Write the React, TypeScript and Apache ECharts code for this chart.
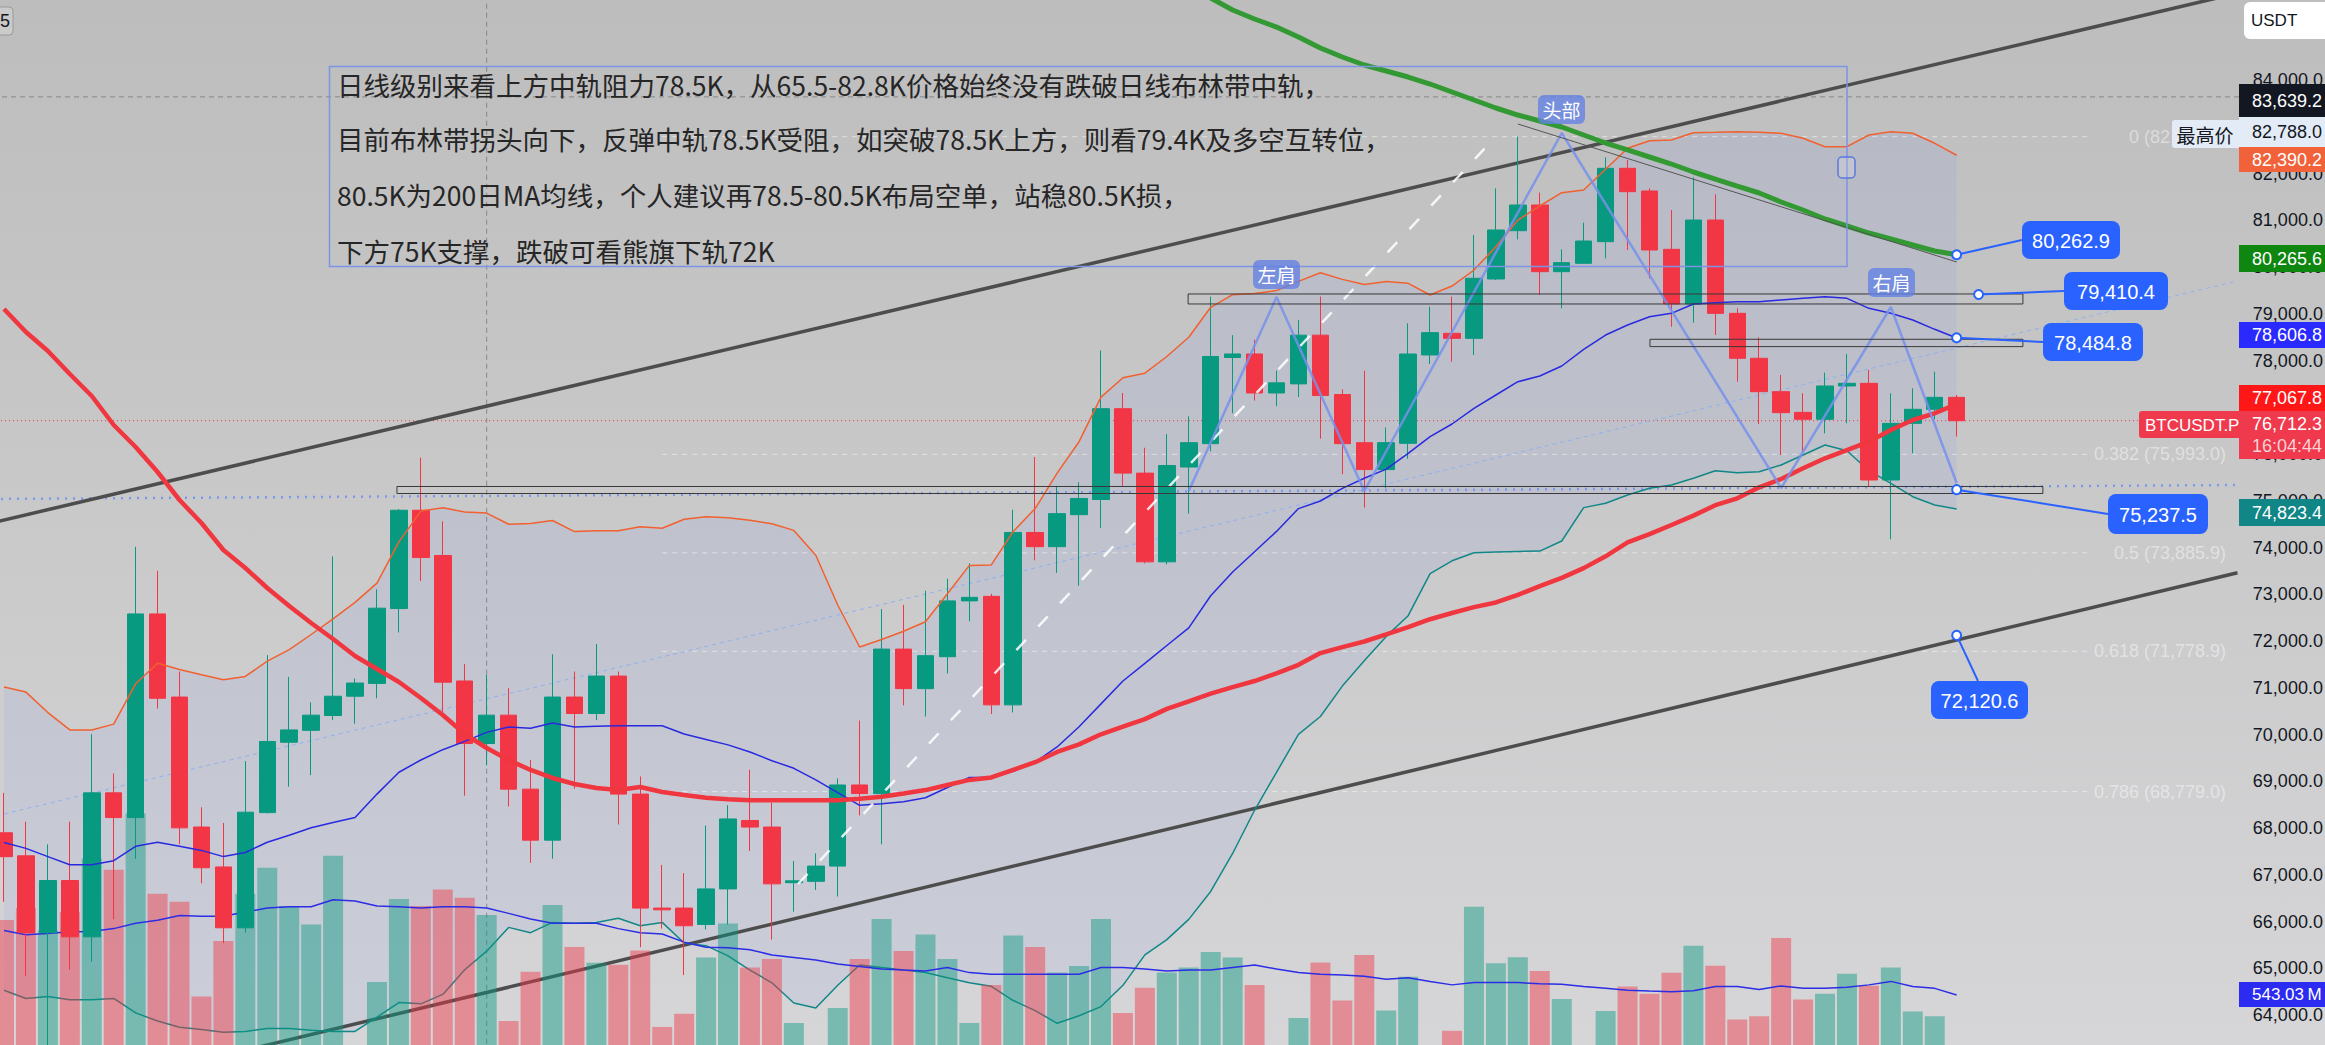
import React, { useEffect, useRef } from 'react';
import * as echarts from 'echarts';

// ---------- data ----------
// daily candles: [open, high, low, close]
const ohlc: number[][] = [
  [67898, 68752, 66420, 67387], [67405, 68136, 64836, 65760], [65760, 67651, 63300, 66877], [66877, 68136, 64968, 65672],
  [65672, 70010, 65144, 68752], [68752, 69165, 66050, 68223], [68223, 74014, 67343, 72579], [72579, 73503, 70555, 70775],
  [70801, 71347, 67651, 68003], [68021, 68443, 66815, 67150], [67167, 68109, 65539, 65865], [65865, 69429, 65760, 68338],
  [68329, 71699, 68311, 69851], [69834, 71233, 68883, 70098], [70089, 70687, 69130, 70414], [70406, 73811, 70309, 70819],
  [70819, 71198, 70230, 71101], [71092, 73107, 70775, 72702], [72694, 74823, 72183, 74797], [74797, 75923, 73283, 73785],
  [73829, 74559, 70467, 71119], [71145, 71506, 68690, 69807], [69807, 71277, 69341, 70414], [70414, 70995, 68461, 68831],
  [68831, 69455, 67255, 67740], [67740, 71717, 67343, 70801], [70801, 71347, 68839, 70449], [70449, 71937, 70309, 71250],
  [71250, 71347, 68074, 68725], [68725, 69103, 65451, 66287], [66287, 67211, 65847, 66250], [66287, 67035, 64853, 65909],
  [65937, 68053, 65829, 66697], [66697, 68487, 65937, 68194], [68161, 69246, 67510, 68020], [68020, 68541, 65612, 66805],
  [66830, 67294, 66208, 66870], [66859, 67456, 66675, 67185], [67185, 69061, 66534, 68920], [68920, 70298, 68270, 68736],
  [68736, 72684, 67651, 71827], [71827, 72771, 70624, 70981], [70981, 73075, 70385, 71686], [71664, 73335, 71307, 72858],
  [72858, 73661, 72424, 72934], [72955, 73010, 70439, 70634], [70634, 74810, 70471, 74322], [74322, 75938, 73726, 74018],
  [74018, 75320, 73455, 74724], [74702, 75396, 73183, 75049], [75027, 78216, 74420, 76969], [76969, 77305, 75320, 75591],
  [75591, 76134, 73661, 73693], [73693, 76427, 73639, 75754], [75722, 76806, 74724, 76242], [76221, 79366, 76058, 78086],
  [78064, 78542, 76871, 78140], [78140, 78444, 77142, 77305], [77305, 77783, 77023, 77522], [77500, 78867, 77218, 78542],
  [78542, 79366, 76329, 77251], [77272, 77381, 75570, 76221], [76242, 77782, 74854, 75667], [75667, 76567, 75266, 76242],
  [76228, 78795, 75900, 78139], [78118, 79152, 77925, 78596], [78581, 79366, 77975, 78474], [78474, 80685, 78118, 79758],
  [79743, 81683, 79722, 80792], [80777, 82788, 80592, 81326], [81326, 81590, 79401, 79900], [79900, 80378, 79116, 80093],
  [80079, 80948, 80064, 80556], [80542, 82346, 80185, 82111], [82111, 82289, 80364, 81611], [81626, 81683, 79758, 80364],
  [80378, 81219, 78724, 79209], [79209, 81918, 78809, 81005], [81005, 81554, 78545, 79009], [79009, 79116, 77547, 78047],
  [78047, 78496, 76642, 77333], [77333, 77690, 75979, 76884], [76891, 77298, 76050, 76742], [76742, 77740, 76442, 77455],
  [77455, 78139, 76656, 77512], [77512, 77797, 75301, 75444], [75444, 77298, 74175, 76656], [76656, 77405, 76014, 76956],
  [76956, 77761, 76742, 77212], [77212, 77262, 76371, 76712],
];

// volume in millions
const volumeM = [
  1124, 1217, 1042, 1186, 1600, 1513, 1950, 1328, 1265, 531,
  961, 1328, 1529, 1232, 1089, 1621, 100, 643, 1287, 1232,
  1360, 1297, 1163, 341, 722, 1240, 915, 793, 777, 888,
  295, 398, 834, 1097, 756, 822, 326, 100, 442, 822,
  1132, 884, 1011, 822, 326, 620, 1003, 915, 716, 767,
  1132, 403, 598, 716, 756, 876, 834, 620, 100, 364,
  794, 500, 853, 422, 683, 120, 265, 1227, 788, 836,
  729, 511, 120, 419, 608, 553, 715, 925, 769, 352,
  378, 984, 508, 553, 707, 615, 756, 415, 378, 150,
];
const volumeMA = [
  1042, 1009, 1019, 1032, 1035, 1057, 1099, 1121, 1159, 1153,
  1153, 1185, 1217, 1226, 1226, 1280, 1271, 1232, 1226, 1217,
  1226, 1226, 1217, 1175, 1131, 1099, 1099, 1099, 1057, 1025,
  1015, 952, 912, 908, 893, 853, 834, 814, 783, 763,
  744, 736, 729, 756, 716, 704, 704, 704, 704, 704,
  756, 756, 744, 729, 736, 736, 756, 775, 744, 716,
  704, 697, 688, 665, 677, 648, 621, 639, 639, 639,
  629, 626, 608, 594, 580, 573, 567, 575, 608, 608,
  586, 613, 594, 594, 602, 621, 648, 608, 594, 543,
];
const bbUpper = [
  71014, 70907, 70469, 70098, 70098, 70222, 71084, 71523, 71392, 71277,
  71172, 71243, 71568, 71814, 72139, 72475, 72826, 73238, 74120, 74779,
  74849, 74761, 74736, 74498, 74515, 74577, 74340, 74357, 74357, 74445,
  74411, 74603, 74659, 74637, 74582, 74507, 74366, 73833, 72770, 71872,
  72032, 72208, 72413, 73010, 73617, 73628, 74344, 74832, 75591, 76263,
  77217, 77630, 77728, 78085, 78498, 79138, 79409, 79431, 79495, 79692,
  79876, 79735, 79626, 79692, 79651, 79401, 79593, 79936, 80434, 81005,
  81305, 81589, 81647, 82090, 82539, 82701, 82716, 82872, 82881, 82894,
  82881, 82860, 82753, 82573, 82573, 82823, 82894, 82860, 82646, 82390,
];
const bbMiddle = [
  67688, 67564, 67388, 67213, 67213, 67301, 67609, 67696, 67609, 67521,
  67388, 67476, 67696, 67846, 68004, 68118, 68225, 68725, 69192, 69455,
  69675, 69852, 70045, 70160, 70133, 70248, 70160, 70178, 70186, 70186,
  70186, 70011, 69895, 69778, 69626, 69440, 69277, 69029, 68757, 68486,
  68518, 68563, 68648, 68866, 69082, 69082, 69213, 69408, 69733, 70167,
  70655, 71144, 71523, 71904, 72282, 72967, 73476, 73910, 74344, 74832,
  74995, 75266, 75482, 75677, 76015, 76370, 76642, 76977, 77262, 77546,
  77668, 77882, 78239, 78545, 78759, 78937, 79009, 79208, 79236, 79258,
  79258, 79294, 79330, 79365, 79330, 79116, 79009, 78866, 78667, 78480,
];
const bbLower = [
  64528, 64353, 64396, 64325, 64325, 64353, 64045, 63870, 63737, 63692,
  63630, 63649, 63712, 63712, 63675, 63649, 63649, 63957, 64265, 64238,
  64441, 64969, 65365, 65874, 65761, 65981, 65964, 65981, 66069, 65910,
  65981, 65540, 65483, 65264, 64961, 64689, 64257, 64148, 64635, 65070,
  65016, 64961, 64907, 64798, 64689, 64614, 64310, 64094, 63823, 63985,
  64180, 64635, 65286, 65613, 66045, 66642, 67455, 68379, 69192, 70004,
  70385, 71035, 71576, 72098, 72541, 73440, 73715, 73887, 73902, 73917,
  73923, 74139, 74853, 74945, 75123, 75266, 75337, 75480, 75643, 75600,
  75621, 75765, 75979, 76192, 76071, 75643, 75373, 75087, 74909, 74823,
];
const maRed = [
  79101, 78610, 78203, 77711, 77241, 76620, 76150, 75615, 75016, 74524,
  73946, 73561, 73134, 72749, 72385, 72043, 71679, 71401, 71123, 70781,
  70417, 70011, 69711, 69455, 69241, 69070, 68941, 68856, 68813, 68877,
  68770, 68706, 68648, 68616, 68595, 68595, 68595, 68595, 68595, 68627,
  68670, 68736, 68811, 68920, 69029, 69082, 69245, 69408, 69626, 69788,
  70004, 70167, 70329, 70548, 70710, 70873, 71014, 71144, 71307, 71491,
  71741, 71870, 71989, 72141, 72295, 72466, 72599, 72725, 72824, 72986,
  73172, 73350, 73559, 73812, 74109, 74287, 74481, 74682, 74905, 75052,
  75288, 75465, 75694, 75908, 76085, 76263, 76513, 76727, 76871, 77068,
];
// 200-day MA, visible from candle 53 onward
const ma200From = 53;
const ma200 = [
  86246, 85968, 85754, 85497, 85305, 85133, 84920, 84684, 84492, 84321,
  84192, 84064, 83914, 83743, 83572, 83401, 83251, 83123, 82995, 82823,
  82652, 82503, 82353, 82203, 82032, 81882, 81732, 81583, 81390, 81219,
  81027, 80877, 80727, 80599, 80470, 80342, 80263,
];

// drawings: [candle index, price]
const channelUpper = [[-1, 74477], [102, 85879]];
const channelLower = [[10, 63133], [101.8, 73460]];
const thinBlueTrend = [[0, 68300], [101.6, 79679]];
const whiteDashTrend = [[36.19, 66802], [67.55, 82567]];
const supportDotted = [[-0.5, 75038], [101.9, 75337]];
const headShoulders = [[54, 75209], [58, 79358], [62, 75209], [71, 82866], [81, 75273], [86, 79144], [89, 75380]];
const headTrend = [[69, 83059], [89, 80107]];
const boxes = [
  [17.91, 92.93, 75155, 75305],
  [53.97, 92.02, 79209, 79423],
  [75.02, 92.02, 78297, 78454],
];
const lastPrice = 76712.3;
const crossPrice = 83639.2;
const crossIndex = 22;
const fibStart = 30;
const fibEnd = 95;
const fibLevels: [string, number][] = [
  ['0', 82788.0], ['0.382', 75993.0], ['0.5', 73885.9], ['0.618', 71778.9], ['0.786', 68779.0],
];
const notes: { label: string; at: number[] }[] = [
  { label: '80,262.9', at: [89, 80263] },
  { label: '79,410.4', at: [90, 79410.4] },
  { label: '78,484.8', at: [89, 78484.8] },
  { label: '75,237.5', at: [89, 75237.5] },
  { label: '72,120.6', at: [89, 72120.6] },
];
const noteBoxes = [
  { x: 2022, y: 221, w: 98, h: 38, tx: 'left' },
  { x: 2064, y: 272, w: 104, h: 38, tx: 'left' },
  { x: 2043, y: 323, w: 100, h: 38, tx: 'left' },
  { x: 2108, y: 494, w: 100, h: 40, tx: 'left' },
  { x: 1931, y: 681, w: 97, h: 38, tx: 'top' },
];
const commentLines = [
  '日线级别来看上方中轨阻力78.5K，从65.5-82.8K价格始终没有跌破日线布林带中轨，',
  '目前布林带拐头向下，反弹中轨78.5K受阻，如突破78.5K上方，则看79.4K及多空互转位，',
  '80.5K为200日MA均线，个人建议再78.5-80.5K布局空单，站稳80.5K损，',
  '下方75K支撑，跌破可看熊旗下轨72K',
];
const patternTags = [
  { text: '头部', x: 1538, y: 95 },
  { text: '左肩', x: 1253, y: 260 },
  { text: '右肩', x: 1868, y: 268 },
];
const priceTags = [
  { text: '83,639.2', y: 84, h: 33, bg: '#131722', fg: '#ffffff', size: 18 },
  { text: '82,788.0', y: 117, h: 30, bg: '#e3ebf7', fg: '#131722', size: 18 },
  { text: '82,390.2', y: 147, h: 25, bg: '#f1623a', fg: '#ffffff', size: 18 },
  { text: '80,265.6', y: 245, h: 27, bg: '#0f860f', fg: '#ffffff', size: 18 },
  { text: '78,606.8', y: 322, h: 26, bg: '#2a2aff', fg: '#ffffff', size: 18 },
  { text: '77,067.8', y: 385, h: 26, bg: '#ff1616', fg: '#ffffff', size: 18 },
  { text: '74,823.4', y: 499, h: 27, bg: '#108686', fg: '#ffffff', size: 18 },
  { text: '543.03\u202FM', y: 982, h: 25, bg: '#2b2bf2', fg: '#ffffff', size: 17 },
];

// ---------- layout ----------
const SLOTS = 103;
const SLOT_W = 21.94;
const LEFT = 4 - SLOT_W / 2;
const PRICE_TOP = -13.5;
const PRICE_H = 1075.25;
const VOL_H = 1065;
const VOL_MAX = 8253.75;
const LATIN = '"Liberation Sans", Arial, sans-serif';
const CJK = '"Noto Sans CJK SC", sans-serif';

const cats = Array.from({ length: SLOTS }, (_, i) => `D${i + 1}`);

function seg(data: number[][], color: string, width: number, type: any, z: number) {
  return {
    type: 'line', xAxisIndex: 1, yAxisIndex: 0, data, symbol: 'none', silent: true, z,
    lineStyle: { color, width, type }, animation: false,
  };
}

function buildOption(): any {
  const series: any[] = [];
  // Bollinger fill
  series.push({
    type: 'custom', xAxisIndex: 0, yAxisIndex: 0, z: 1, silent: true, data: [[0, 0]],
    renderItem: (_p: any, api: any) => {
      const pts: number[][] = [];
      for (let i = 0; i < bbUpper.length; i++) pts.push(api.coord([i, bbUpper[i]]));
      for (let i = bbLower.length - 1; i >= 0; i--) pts.push(api.coord([i, bbLower[i]]));
      return { type: 'polygon', shape: { points: pts }, style: { fill: 'rgba(70,110,235,0.07)' } };
    },
  });
  fibLevels.forEach(([, p]) => series.push(seg([[fibStart, p], [fibEnd, p]], 'rgba(255,255,255,0.5)', 1, [5, 5], 2)));
  series.push(seg([[-0.5, crossPrice], [101.9, crossPrice]], 'rgba(120,120,120,0.8)', 1, [5, 4], 2));
  series.push(seg([[crossIndex, 63000], [crossIndex, 86000]], 'rgba(120,120,120,0.8)', 1, [5, 4], 2));
  series.push(seg([[-0.5, lastPrice], [101.9, lastPrice]], '#f23645', 1, [1, 3], 2));
  series.push(seg(supportDotted, '#7c98ee', 2.5, [2, 6], 2));
  series.push(seg(thinBlueTrend, '#8fb0f2', 1, [4, 4], 2));
  series.push(seg(channelUpper, '#4d4d4d', 3.5, 'solid', 2));
  series.push(seg(channelLower, '#4d4d4d', 3.5, 'solid', 2));
  series.push({
    type: 'line', xAxisIndex: 0, yAxisIndex: 0, data: bbLower, symbol: 'none', silent: true, z: 2,
    lineStyle: { color: '#128787', width: 1.5 },
  });
  // volume
  series.push({
    type: 'bar', xAxisIndex: 2, yAxisIndex: 1, barWidth: 20, z: 3, silent: true,
    data: volumeM.map((v, i) => ({
      value: v,
      itemStyle: { color: ohlc[i][3] >= ohlc[i][0] ? 'rgba(8,153,129,0.45)' : 'rgba(242,54,69,0.45)' },
    })),
  });
  series.push({
    type: 'line', xAxisIndex: 2, yAxisIndex: 1, data: volumeMA, symbol: 'none', silent: true, z: 4,
    lineStyle: { color: '#2c2ce6', width: 1.5 },
  });
  // candles
  series.push({
    type: 'candlestick', xAxisIndex: 0, yAxisIndex: 0, z: 5, barWidth: 17, silent: true,
    data: ohlc.map(([o, h, l, c]) => [o, c, l, h]),
    itemStyle: { color: '#089981', color0: '#f23645', borderColor: '#089981', borderColor0: '#f23645', borderWidth: 1 },
  });
  const line0 = (data: any[], color: string, width: number) => ({
    type: 'line', xAxisIndex: 0, yAxisIndex: 0, data, symbol: 'none', silent: true, z: 6,
    lineStyle: { color, width }, connectNulls: false,
  });
  series.push(line0(bbUpper, '#f2602f', 1.5));
  series.push(line0(bbMiddle, '#2929e0', 1.5));
  series.push(line0(maRed, '#f0363f', 4.5));
  const ma200Full: any[] = [];
  for (let i = 0; i < ma200From; i++) ma200Full.push('-');
  ma200.forEach((v) => ma200Full.push(v));
  series.push(line0(ma200Full, '#339933', 5));
  series.push(seg(whiteDashTrend, 'rgba(255,255,255,0.85)', 2.5, [14, 18], 7));
  series.push(seg(headShoulders, 'rgba(120,145,235,0.85)', 2.5, 'solid', 7));
  series.push(seg(headTrend, '#555555', 1, 'solid', 7));
  boxes.forEach(([x1, x2, y1, y2]) =>
    series.push(seg([[x1, y1], [x2, y1], [x2, y2], [x1, y2], [x1, y1]], '#3a3a3a', 1, 'solid', 7)),
  );

  return {
    animation: false,
    backgroundColor: 'transparent',
    grid: [
      { left: LEFT, top: PRICE_TOP, width: SLOTS * SLOT_W, height: PRICE_H, outerBoundsMode: 'none', containLabel: false },
      { left: LEFT, top: 0, width: SLOTS * SLOT_W, height: VOL_H, outerBoundsMode: 'none', containLabel: false },
    ],
    xAxis: [
      { type: 'category', gridIndex: 0, data: cats, boundaryGap: true, show: false },
      { type: 'value', gridIndex: 0, min: -0.5, max: SLOTS - 0.5, show: false },
      { type: 'category', gridIndex: 1, data: cats, boundaryGap: true, show: false },
    ],
    yAxis: [
      {
        type: 'value', gridIndex: 0, position: 'right', min: 63000, max: 86000, interval: 1000,
        splitLine: { show: false }, axisLine: { show: false }, axisTick: { show: false },
        axisLabel: {
          margin: 0, fontSize: 18, color: '#131722', fontFamily: LATIN,
          formatter: (v: number) => (v > 84000 || v < 64000 ? '' : v.toLocaleString('en-US', { minimumFractionDigits: 1, maximumFractionDigits: 1 })),
        },
      },
      { type: 'value', gridIndex: 1, min: 0, max: VOL_MAX, show: false },
    ],
    series,
  };
}

function buildGraphics(chart: any): any[] {
  const px = (p: number[]) => chart.convertToPixel({ xAxisIndex: 1, yAxisIndex: 0 }, p) as number[];
  const g: any[] = [];
  // fib labels
  fibLevels.forEach(([r, p]) => {
    const [, y] = px([fibEnd, p]);
    g.push({
      type: 'text', z: 50, x: 2226, y,
      style: {
        text: `${r} (${p.toLocaleString('en-US', { minimumFractionDigits: 1, maximumFractionDigits: 1 })})`,
        fill: 'rgba(255,255,255,0.45)', font: `18px ${LATIN}`, textAlign: 'right', textVerticalAlign: 'middle',
      },
    });
  });
  // comment box
  g.push({ type: 'rect', z: 60, shape: { x: 329.5, y: 66.5, width: 1517.5, height: 200 }, style: { fill: 'rgba(0,0,0,0)', stroke: '#7d93e4', lineWidth: 1.5 } });
  g.push({ type: 'rect', z: 61, shape: { x: 1838, y: 157, width: 17, height: 21, r: 4 }, style: { fill: 'rgba(255,255,255,0.15)', stroke: '#5a78e0', lineWidth: 1.5 } });
  const lineYs = [84, 138, 194, 250];
  commentLines.forEach((t, i) =>
    g.push({ type: 'text', z: 62, x: 337, y: lineYs[i], style: { text: t, fill: '#262626', font: `26.5px ${CJK}`, textVerticalAlign: 'middle' } }),
  );
  // pattern tags
  patternTags.forEach((t) => {
    g.push({ type: 'rect', z: 63, shape: { x: t.x, y: t.y, width: 47, height: 29, r: 6 }, style: { fill: 'rgba(100,130,226,0.8)' } });
    g.push({ type: 'text', z: 64, x: t.x + 23.5, y: t.y + 14.5, style: { text: t.text, fill: '#ffffff', font: `19px ${CJK}`, textAlign: 'center', textVerticalAlign: 'middle' } });
  });
  // price notes
  notes.forEach((n, i) => {
    const [ax, ay] = px(n.at);
    const b = noteBoxes[i];
    const tx = b.tx === 'top' ? b.x + 47 : b.x;
    const ty = b.tx === 'top' ? b.y : b.y + b.h / 2;
    g.push({ type: 'line', z: 80, shape: { x1: ax, y1: ay, x2: tx, y2: ty }, style: { stroke: '#2962ff', lineWidth: 2 } });
    g.push({ type: 'rect', z: 81, shape: { x: b.x, y: b.y, width: b.w, height: b.h, r: 8 }, style: { fill: '#2962ff' } });
    g.push({ type: 'text', z: 82, x: b.x + b.w / 2, y: b.y + b.h / 2 + 1, style: { text: n.label, fill: '#ffffff', font: `20px ${LATIN}`, textAlign: 'center', textVerticalAlign: 'middle' } });
    g.push({ type: 'circle', z: 83, shape: { cx: ax, cy: ay, r: 4.5 }, style: { fill: '#ffffff', stroke: '#2962ff', lineWidth: 2 } });
  });
  // price scale tags
  priceTags.forEach((t) => {
    g.push({ type: 'rect', z: 100, shape: { x: 2239, y: t.y, width: 90, height: t.h }, style: { fill: t.bg } });
    g.push({ type: 'text', z: 101, x: 2252, y: t.y + t.h / 2, style: { text: t.text, fill: t.fg, font: `${t.size}px ${LATIN}`, textVerticalAlign: 'middle' } });
  });
  // last price tag with countdown
  g.push({ type: 'rect', z: 100, shape: { x: 2239, y: 411, width: 90, height: 48 }, style: { fill: '#ee3a4c' } });
  g.push({ type: 'text', z: 101, x: 2252, y: 424, style: { text: '76,712.3', fill: '#ffffff', font: `18px ${LATIN}`, textVerticalAlign: 'middle' } });
  g.push({ type: 'text', z: 101, x: 2252, y: 446, style: { text: '16:04:44', fill: '#f9d0d5', font: `18px ${LATIN}`, textVerticalAlign: 'middle' } });
  g.push({ type: 'rect', z: 100, shape: { x: 2139, y: 411, width: 100, height: 27, r: [3, 0, 0, 3] }, style: { fill: '#ee3a4c' } });
  g.push({ type: 'text', z: 101, x: 2145, y: 425, style: { text: 'BTCUSDT.P', fill: '#ffffff', font: `17px ${LATIN}`, textVerticalAlign: 'middle' } });
  g.push({ type: 'rect', z: 100, shape: { x: 2172, y: 120, width: 67, height: 28, r: [3, 0, 0, 3] }, style: { fill: '#e3ebf7' } });
  g.push({ type: 'text', z: 101, x: 2205, y: 134, style: { text: '最高价', fill: '#131722', font: `19px ${CJK}`, textAlign: 'center', textVerticalAlign: 'middle' } });
  // currency box
  g.push({ type: 'rect', z: 100, shape: { x: 2244, y: 2, width: 100, height: 37, r: 6 }, style: { fill: '#ffffff' } });
  g.push({ type: 'text', z: 101, x: 2251, y: 20, style: { text: 'USDT', fill: '#131722', font: `17px ${LATIN}`, textVerticalAlign: 'middle' } });
  // clipped tag at top-left
  g.push({ type: 'rect', z: 100, shape: { x: -12, y: 7, width: 25, height: 28, r: 4 }, style: { fill: 'rgba(255,255,255,0.2)', stroke: '#9a9a9a', lineWidth: 1 } });
  g.push({ type: 'text', z: 101, x: 0, y: 21, style: { text: '5', fill: '#131722', font: `18px ${LATIN}`, textVerticalAlign: 'middle' } });
  return g;
}

export default function App() {
  const ref = useRef<HTMLDivElement>(null);
  useEffect(() => {
    document.body.style.margin = '0';
    const el = ref.current as HTMLDivElement;
    const chart = echarts.init(el, undefined, { renderer: 'svg' });
    chart.setOption(buildOption());
    chart.setOption({ graphic: buildGraphics(chart) });
    return () => chart.dispose();
  }, []);
  return (
    <div
      ref={ref}
      style={{
        width: 2325,
        height: 1045,
        overflow: 'hidden',
        background: 'linear-gradient(180deg, #bdbdbe 0%, #c8c8c9 45%, #d6d6d8 100%)',
      }}
    />
  );
}
